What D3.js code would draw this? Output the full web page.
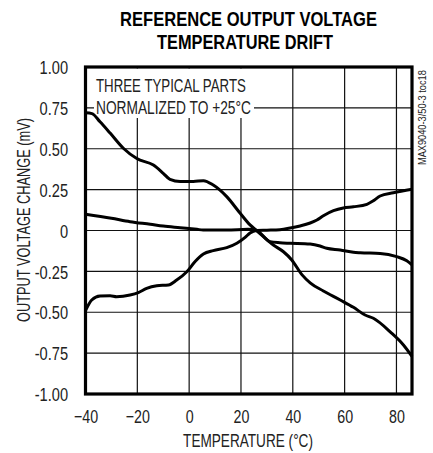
<!DOCTYPE html>
<html><head><meta charset="utf-8">
<script src="https://cdn.jsdelivr.net/npm/d3@7"></script>
<style>
body{margin:0;background:#fff;}
text{font-family:"Liberation Sans","Arial",sans-serif;fill:#222;}
</style></head>
<body><svg id="c" width="433" height="453"></svg>
<script>
const titleLines = ["REFERENCE OUTPUT VOLTAGE", "TEMPERATURE DRIFT"];
const xLabel = "TEMPERATURE (°C)";
const yLabel = "OUTPUT VOLTAGE CHANGE (mV)";
const noteLines = ["THREE TYPICAL PARTS", "NORMALIZED TO +25°C"];
const sideNote = "MAX9040-3/50-3 toc18";
const xTicks = [-40, -20, 0, 20, 40, 60, 80];
const yTicks = [1.00, 0.75, 0.50, 0.25, 0, -0.25, -0.50, -0.75, -1.00];
const yTickLabels = ["1.00", "0.75", "0.50", "0.25", "0", "-0.25", "-0.50", "-0.75", "-1.00"];

const partA_T = [-40,-37.5,-34.4,-30.5,-25.4,-20.2,-13.8,-10,-7.4,-3.5,1.6,5.5,9.3,14.5,19.7,23.5,26,32.5,36.4,39.6,43.5,46.7,51.8,58.3,63.4,67.9,71.1,77.6,82.7,86];
const partA_V = [0.72,0.715,0.665,0.596,0.503,0.44,0.40,0.35,0.313,0.30,0.30,0.305,0.278,0.207,0.105,0.034,0.0,-0.089,-0.13,-0.18,-0.27,-0.32,-0.37,-0.425,-0.47,-0.517,-0.537,-0.62,-0.70,-0.77];
const partB_T = [-40,-37.6,-34.4,-30.5,-28,-22.8,-19.6,-16.4,-12.5,-8,-4.8,-0.9,2.3,5.5,9.3,14.5,18.4,21.6,23.5,26,30,35,39,42.8,46.7,49.3,51.8,55.7,59.5,63.4,68.6,70.9,73.7,78.8,86];
const partB_V = [-0.49,-0.425,-0.40,-0.399,-0.405,-0.395,-0.38,-0.354,-0.338,-0.333,-0.303,-0.252,-0.19,-0.144,-0.123,-0.105,-0.078,-0.042,-0.015,0.0,0.002,0.005,0.015,0.028,0.046,0.064,0.09,0.121,0.138,0.145,0.16,0.18,0.211,0.231,0.252];
const partC_T = [-40,-30,-22.8,-15,-10,-3.5,3,5.4,14.5,22.7,26,31.2,35,39,46.7,50.5,53.1,58.3,63.4,66,73.7,80.1,84,86];
const partC_V = [0.10,0.075,0.054,0.038,0.027,0.017,0.007,0.003,0.003,0.007,0.0,-0.068,-0.075,-0.078,-0.083,-0.095,-0.109,-0.119,-0.133,-0.136,-0.14,-0.16,-0.185,-0.21];

const svg = d3.select("#c");
const L = 85.5, R = 412, T = 67, B = 394;
const x = d3.scaleLinear().domain([-40, 86]).range([L, R]);
const y = d3.scaleLinear().domain([-1, 1]).range([B, T]);

// places a text at (px,py) with rotation, horizontally squeezed to a target width
function fitText(str, px, py, rot, width, size, anchor, weight, fill) {
  const t = svg.append("text").attr("font-size", size).attr("font-weight", weight || "normal")
    .attr("text-anchor", anchor).style("fill", fill || "#222").text(str);
  const nat = t.node().getComputedTextLength();
  const sx = width / nat;
  t.attr("transform", `translate(${px},${py}) rotate(${rot}) scale(${sx},1)`);
  return t;
}

// grid
const g = svg.append("g");
g.selectAll("line.v").data(xTicks.slice(1)).join("line")
  .attr("x1", d => x(d)).attr("x2", d => x(d))
  .attr("y1", B).attr("y2", T)
  .attr("stroke", "#111").attr("stroke-width", 1.2);
g.selectAll("line.h").data(yTicks).join("line")
  .attr("x1", L).attr("x2", R)
  .attr("y1", d => y(d)).attr("y2", d => y(d))
  .attr("stroke", "#111").attr("stroke-width", 1.2);

// mask behind note
svg.append("rect").attr("x", 94).attr("y", T + 1.5).attr("width", 160).attr("height", 118 - T - 1.5).attr("fill", "#fff");
fitText(noteLines[0], 96, 92, 0, 150, 18, "start");
fitText(noteLines[1], 96, 113.5, 0, 155, 18, "start");

// curves
const line = d3.line().x(d => x(d[0])).y(d => y(d[1])).curve(d3.curveMonotoneX);
const parts = [[partA_T, partA_V], [partB_T, partB_V], [partC_T, partC_V]];
parts.forEach(([ts, vs]) => {
  svg.append("path").datum(ts.map((t, i) => [t, vs[i]]))
    .attr("d", line).attr("fill", "none").attr("stroke", "#000")
    .attr("stroke-width", 3).attr("stroke-linejoin", "round");
});

// frame
svg.append("rect").attr("x", L).attr("y", T).attr("width", R - L).attr("height", B - T)
  .attr("fill", "none").attr("stroke", "#000").attr("stroke-width", 3.2);

// axes via d3 axis
const xAxis = d3.axisBottom(x).tickValues(xTicks).tickSize(0).tickPadding(0).tickFormat(d3.format("d"));
const xa = svg.append("g").attr("transform", `translate(0,${B})`).call(xAxis);
xa.select(".domain").remove();
xa.selectAll("text").attr("dy", null).attr("y", 29).attr("font-size", 18.5).attr("font-family", null)
  .attr("fill", "#222").attr("transform", "scale(0.77,1)");

const yAxis = d3.axisLeft(y).tickValues(yTicks).tickSize(0).tickPadding(0).tickFormat((d, i) => yTickLabels[i]);
const ya = svg.append("g").attr("transform", `translate(68,0)`).call(yAxis);
ya.select(".domain").remove();
ya.selectAll("text").attr("x", 0).attr("dy", "0.36em").attr("font-size", 18.5).attr("font-family", null)
  .attr("fill", "#222").attr("transform", "scale(0.79,1)");

// titles
fitText(titleLines[0], 248.5, 26, 0, 257, 21, "middle", "bold", "#000");
fitText(titleLines[1], 245, 49, 0, 176, 21, "middle", "bold", "#000");

fitText(xLabel, 248, 447, 0, 130, 18, "middle");
fitText(yLabel, 30, 220, -90, 204, 18, "middle");
fitText(sideNote, 426, 165, -90, 95, 11, "start");
</script></body></html>
